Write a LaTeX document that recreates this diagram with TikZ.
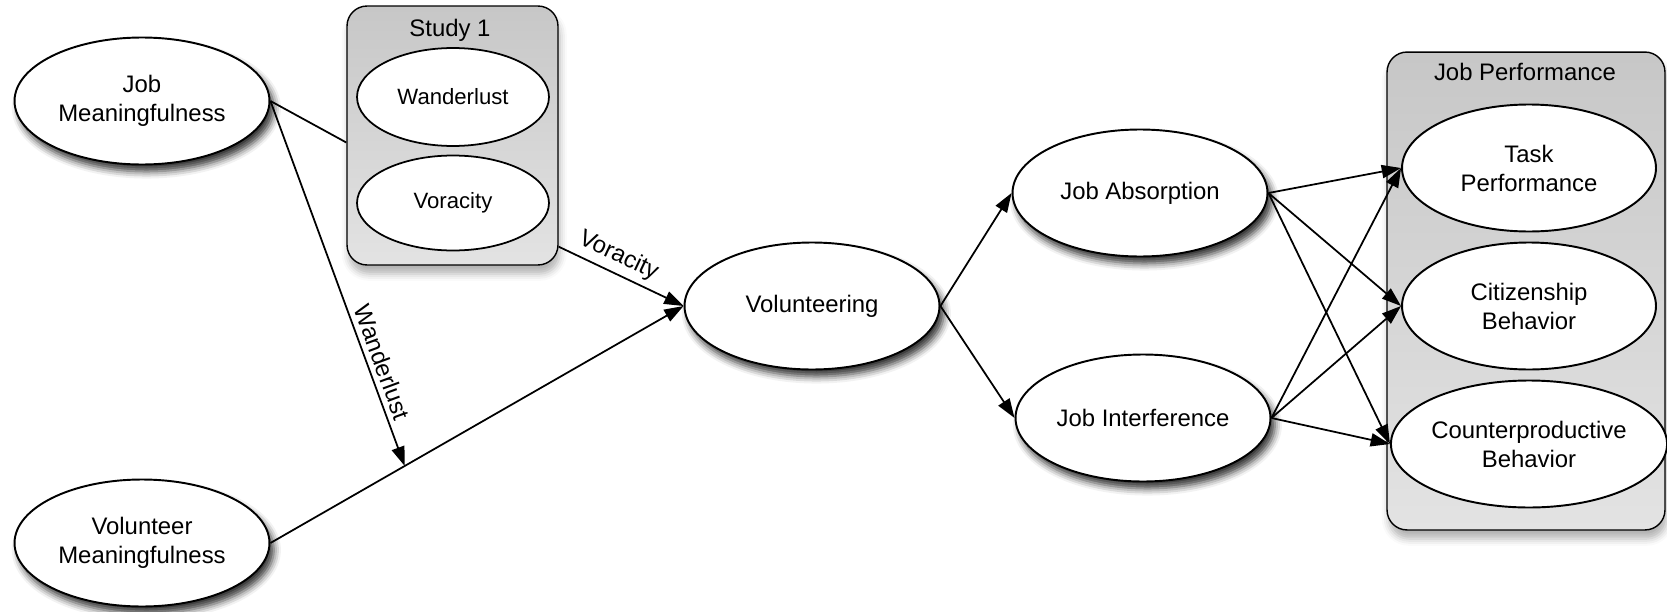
\documentclass[tikz,border=0pt]{standalone}
\usepackage{fontspec}
\setmainfont{Liberation Sans}
\usetikzlibrary{arrows.meta,calc,shapes.geometric,shadows.blur}
\tikzstyle{factor} = [ellipse, draw, line width=1.1pt, fill=white, inner sep=0pt,
  minimum width=5.1cm, minimum height=2.54cm, align=center,
  blur shadow={shadow xshift=2.5pt, shadow yshift=-4pt, shadow blur radius=4pt, shadow opacity=80}]
\tikzstyle{subfactor} = [ellipse, draw, fill=white, inner sep=0pt, align=center]
\tikzstyle{groupbox} = [draw, line width=0.8pt, rounded corners=0.4cm, inner sep=0pt,
  top color=black!22, bottom color=black!11,
  blur shadow={shadow xshift=1pt, shadow yshift=-5pt, shadow blur radius=4pt, shadow opacity=30}]
\tikzstyle{grouptitle} = [anchor=center, inner sep=0pt]
\tikzstyle{pathlabel} = [sloped, above, inner sep=3pt]
\tikzset{font={\fontsize{13.6}{16.5}\selectfont}}

\begin{document}
\begin{tikzpicture}[x=0.02cm, y=-0.02cm, line width=1pt, >={Triangle[length=11pt, width=7.5pt]}]
  \useasboundingbox (0,0) rectangle (1667,612);

  % groups
  \node[at={(452.5,135.5)}, groupbox, minimum width=4.22cm, minimum height=5.18cm] (study) {};
  \node[at={(450,30)}, grouptitle] (studytitle) {Study 1};
  \node[at={(1526,291)}, groupbox, minimum width=5.56cm, minimum height=9.56cm] (perf) {};
  \node[at={(1525,72)}, grouptitle] (perftitle) {Job Performance};

  % study 1
  \node[at={(453,97)}, subfactor, minimum width=3.84cm, minimum height=1.96cm,
    font={\fontsize{12.6}{15}\selectfont}] (wander) {Wanderlust};
  \node[at={(453,203)}, subfactor, minimum width=3.84cm, minimum height=1.9cm,
    font={\fontsize{12.6}{15}\selectfont}] (vorac) {Voracity};

  % job performance
  \node[at={(1529,168)}, subfactor, line width=1.1pt, minimum width=5.08cm, minimum height=2.54cm] (task) {Task\\Performance};
  \node[at={(1529,306)}, subfactor, line width=1.1pt, minimum width=5.08cm, minimum height=2.54cm] (citizen) {Citizenship\\Behavior};
  \node[at={(1529,444)}, subfactor, line width=1.1pt, minimum width=5.08cm, minimum height=2.54cm] (counter) {Counterproductive\\Behavior};

  % model
  \node[at={(142,101)}, factor] (jm) {Job\\Meaningfulness};
  \node[at={(142,543)}, factor] (vm) {Volunteer\\Meaningfulness};
  \node[at={(812,306)}, factor] (vol) {Volunteering};
  \node[at={(1140,193)}, factor] (ja) {Job Absorption};
  \node[at={(1143,418)}, factor] (ji) {Job Interference};

  \coordinate (wl) at ($(vm.east)!0.325!(vol.west)$);

  \draw (jm.east) -- ($(study.west)+(0,7)$);
  \draw[->] (jm.east) -- (wl) node[pathlabel, pos=0.73] {Wanderlust};
  \draw[->] ($(study.south east)+(0,-19)$) -- (vol.west) node[pathlabel, pos=0.42] {Voracity};
  \draw[->] (vm.east) -- (vol.west);

  \draw[->] (vol.east) -- (ja.west);
  \draw[->] (vol.east) -- (ji.west);

  \draw[->] (ja.east) -- (task.west);
  \draw[->] (ja.east) -- (citizen.west);
  \draw[->] (ja.east) -- (counter.west);
  \draw[->] (ji.east) -- (task.west);
  \draw[->] (ji.east) -- (citizen.west);
  \draw[->] (ji.east) -- (counter.west);
\end{tikzpicture}
\end{document}
